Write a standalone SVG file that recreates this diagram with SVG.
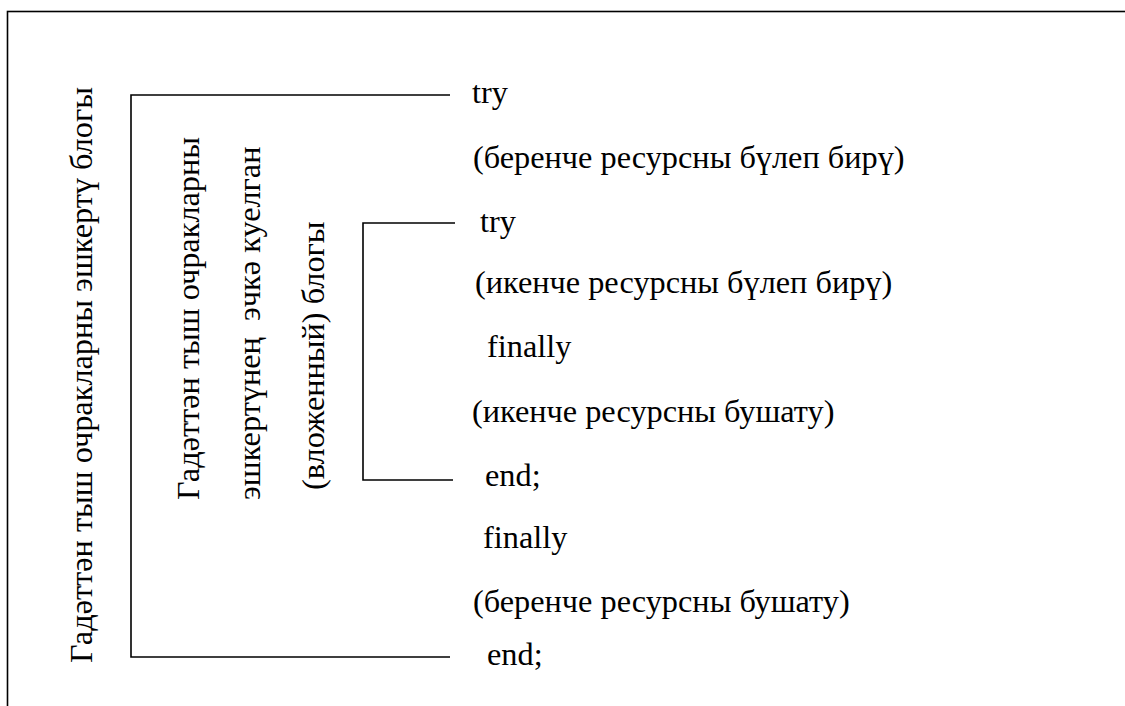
<svg xmlns="http://www.w3.org/2000/svg" width="1125" height="706" viewBox="0 0 1125 706">
  <style>
    .t { font-family: "Liberation Serif", "Times New Roman", serif; font-size: 32.3px; fill: #000; }
    .ln { fill: none; stroke: #000; stroke-width: 1.6; }
  </style>
  <rect x="0" y="0" width="1125" height="706" fill="#fff"/>
  <!-- page frame (open on the right and bottom) -->
  <g id="frame">
    <rect class="ln" x="7.5" y="11.5" width="1200" height="800"/>
  </g>

  <!-- brackets joining the block labels to the code lines -->
  <g id="connectors">
    <path class="ln" d="M450 95 H131 V657 H450"/>
    <path class="ln" d="M455 223 H363 V480 H453"/>
  </g>

  <!-- vertical block labels -->
  <g id="outer-label">
    <text class="t" transform="translate(92 663) rotate(-90)">Гадәттән тыш очракларны эшкертү блогы</text>
  </g>
  <g id="inner-label">
    <text class="t" transform="translate(199 500) rotate(-90)">Гадәттән тыш очракларны</text>
    <text class="t" xml:space="preserve" transform="translate(260 500) rotate(-90)">эшкертүнең  эчкә куелган</text>
    <text class="t" transform="translate(324 490) rotate(-90)">(вложенный) блогы</text>
  </g>

  <!-- code lines -->
  <g id="outer-try">
    <text class="t" x="472" y="103">try</text>
    <text class="t" x="473" y="168">(беренче ресурсны бүлеп бирү)</text>
  </g>
  <g id="inner-block">
    <text class="t" x="480" y="232">try</text>
    <text class="t" x="475" y="293">(икенче ресурсны бүлеп бирү)</text>
    <text class="t" x="487" y="357">finally</text>
    <text class="t" x="472" y="422">(икенче ресурсны бушату)</text>
    <text class="t" x="485" y="486">end;</text>
  </g>
  <g id="outer-finally">
    <text class="t" x="483" y="548">finally</text>
    <text class="t" x="473" y="612">(беренче ресурсны бушату)</text>
    <text class="t" x="487" y="665">end;</text>
  </g>
</svg>
